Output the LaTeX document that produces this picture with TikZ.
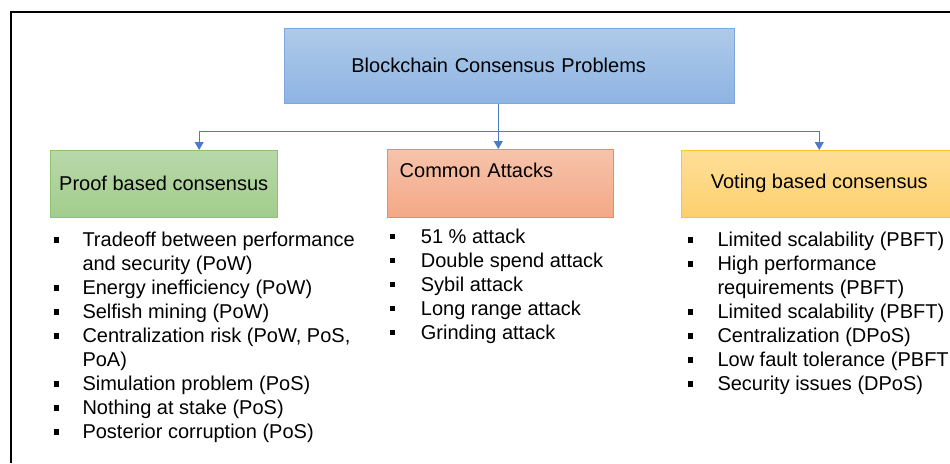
\documentclass[tikz,border=0pt]{standalone}
\usepackage{fontspec}
\setmainfont{Liberation Sans}
\usetikzlibrary{arrows.meta}

\definecolor{linkblue}{HTML}{4A7BC8}
\definecolor{titletop}{HTML}{AFCAE8}
\definecolor{titlebot}{HTML}{8EB4E3}
\definecolor{titleline}{HTML}{7DA7DD}
\definecolor{prooftop}{HTML}{B8D8A9}
\definecolor{proofbot}{HTML}{A2CD8C}
\definecolor{proofline}{HTML}{8DC26E}
\definecolor{attacktop}{HTML}{F6C3AB}
\definecolor{attackbot}{HTML}{F4A886}
\definecolor{attackline}{HTML}{EF8B55}
\definecolor{votetop}{HTML}{FEDF98}
\definecolor{votebot}{HTML}{FDD06E}
\definecolor{voteline}{HTML}{FCC32A}

\newcommand{\sqbullet}{\rule[4.2pt]{5.2pt}{5.2pt}}

\tikzset{
  headbox/.style={draw, line width=0.8pt, anchor=north west},
  itemlist/.style={anchor=base west, inner sep=0pt},
  link/.style={draw=linkblue, line width=0.9pt, -{Triangle[width=9pt,length=8pt]}},
}

\begin{document}
\begin{tikzpicture}[x=1pt,y=-1pt,font=\fontsize{20}{24}\selectfont]
  \clip (0,0) rectangle (950,463);
  \draw[line width=1.8pt] (950,12) -- (11,12) -- (11,463);

  \node[headbox, draw=titleline, top color=titletop, bottom color=titlebot,
        minimum height=75pt, inner xsep=0pt, text width=450pt, align=left,
        text height=14pt, text depth=0pt] (problems) at (284,28)
        {\hspace*{67pt}Blockchain Consensus Problems};

  \node[headbox, draw=proofline, top color=prooftop, bottom color=proofbot,
        minimum width=226.7pt, minimum height=66.7pt] (proof) at (50,150)
        {Proof based consensus};
  \node[headbox, draw=attackline, top color=attacktop, bottom color=attackbot,
        inner xsep=12.6pt, text width=201.4pt, align=left, minimum height=68pt,
        text height=14.3pt, text depth=26.3pt] (attacks) at (386.7,149)
        {Common Attacks};
  \node[headbox, draw=voteline, top color=votetop, bottom color=votebot,
        minimum width=276.3pt, minimum height=66.7pt] (voting) at (680.7,150)
        {Voting based consensus};

  \coordinate (bus) at (498.3,131.7);
  \draw[link] (problems.south -| bus) -- (attacks.north -| bus);
  \draw[link] (bus) -| ([xshift=35.4pt]proof.north);
  \draw[link] (bus) -| (voting.north);

  \node[itemlist] (prooflist) at (53.3,246.7) {%
    \begin{tabular}[t]{@{}p{29pt}@{}l@{}}
      \sqbullet & Tradeoff between performance\\
                & and security (PoW)\\
      \sqbullet & Energy inefficiency (PoW)\\
      \sqbullet & Selfish mining (PoW)\\
      \sqbullet & Centralization risk (PoW, PoS,\\
                & PoA)\\
      \sqbullet & Simulation problem (PoS)\\
      \sqbullet & Nothing at stake (PoS)\\
      \sqbullet & Posterior corruption (PoS)
    \end{tabular}};

  \node[itemlist] (attacklist) at (390,243.5) {%
    \begin{tabular}[t]{@{}p{30.7pt}@{}l@{}}
      \sqbullet & 51 \% attack\\
      \sqbullet & Double spend attack\\
      \sqbullet & Sybil attack\\
      \sqbullet & Long range attack\\
      \sqbullet & Grinding attack
    \end{tabular}};

  \node[itemlist] (votelist) at (688,246.7) {%
    \begin{tabular}[t]{@{}p{29.3pt}@{}l@{}}
      \sqbullet & Limited scalability (PBFT)\\
      \sqbullet & High performance\\
                & requirements (PBFT)\\
      \sqbullet & Limited scalability (PBFT)\\
      \sqbullet & Centralization (DPoS)\\
      \sqbullet & Low fault tolerance (PBFT\\
      \sqbullet & Security issues (DPoS)
    \end{tabular}};
\end{tikzpicture}
\end{document}
